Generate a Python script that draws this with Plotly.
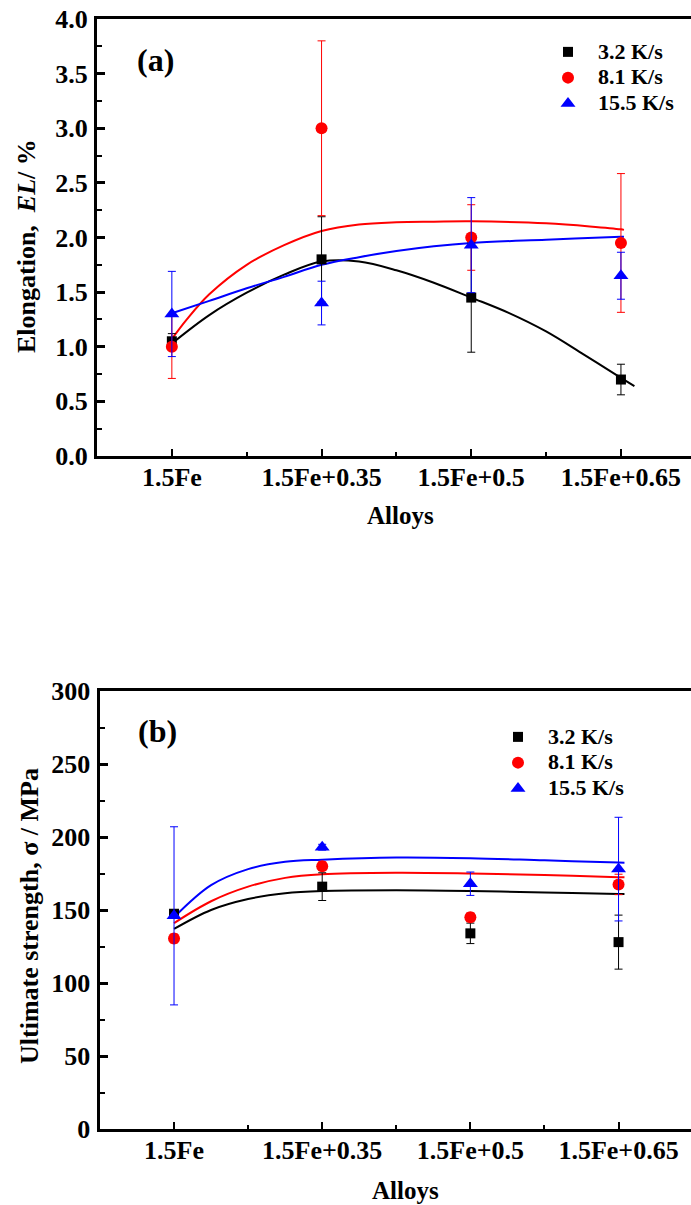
import plotly.graph_objects as go

# ---- categories and series ----
alloys = ["1.5Fe", "1.5Fe+0.35", "1.5Fe+0.5", "1.5Fe+0.65"]
alloy_pos = [0, 1, 2, 3]
rates = ["3.2 K/s", "8.1 K/s", "15.5 K/s"]
colors = ["#000000", "#ff0000", "#0000ff"]
symbols = ["square", "circle", "triangle-up"]
marker_sizes = [10, 12, 13]

# (a) elongation, %
el_32 = [1.05, 1.80, 1.45, 0.70]
el_32_err = [0.07, 0.39, 0.50, 0.14]
el_81 = [1.00, 3.00, 2.00, 1.95]
el_81_err = [0.29, 0.80, 0.30, 0.635]
el_155 = [1.30, 1.40, 1.93, 1.65]
el_155_err = [0.39, 0.20, 0.435, 0.215]

# (a) fitted trend lines (position along alloy axis, value)
el_fit_32_x = [0, 0.25, 0.5, 0.75, 1, 1.25, 1.5, 1.75, 2, 2.25, 2.5, 2.75, 3, 3.09]
el_fit_32_y = [1.03, 1.29, 1.495, 1.66, 1.78, 1.78, 1.70, 1.586, 1.45, 1.31, 1.14, 0.93, 0.715, 0.64]
el_fit_81_x = [0, 0.1, 0.25, 0.5, 0.75, 1, 1.25, 1.5, 1.75, 2, 2.5, 3, 3.02]
el_fit_81_y = [1.07, 1.25, 1.48, 1.75, 1.93, 2.06, 2.12, 2.14, 2.145, 2.148, 2.13, 2.075, 2.07]
el_fit_155_x = [0, 0.25, 0.5, 0.75, 1, 1.25, 1.5, 1.75, 2, 2.5, 3, 3.02]
el_fit_155_y = [1.306, 1.42, 1.535, 1.64, 1.75, 1.82, 1.876, 1.92, 1.95, 1.98, 2.007, 2.008]

# (b) ultimate strength, MPa
uts_32 = [147.5, 166.0, 134.0, 128.0]
uts_32_err = [2.0, 9.5, 7.0, 18.5]
uts_81 = [130.5, 180.0, 145.0, 167.5]
uts_81_err = [3.0, 3.0, 3.0, 7.0]
uts_155 = [146.0, 193.0, 168.0, 178.0]
uts_155_err = [61.0, 2.0, 8.0, 35.5]

# (b) fitted trend lines
uts_fit_x = [0, 0.25, 0.5, 0.75, 1, 1.5, 2, 2.5, 3, 3.04]
uts_fit_32_y = [137, 150, 157.5, 161.5, 163, 163.5, 163, 162, 161, 161]
uts_fit_81_y = [141, 156, 166, 172, 174.5, 175.5, 175, 174, 172.5, 172.4]
uts_fit_155_y = [145, 167, 178, 183, 184.5, 186, 185.5, 184, 182.5, 182.4]

W, H = 691, 1205
FONT = "Liberation Serif"


def legend_label(name):
    # larger label text inside a compact legend row
    return '<span style="font-size:22px">' + name + "</span>"


fig = go.Figure()

panels = [
    dict(xa="x", ya="y", legend="legend",
         vals=[el_32, el_81, el_155], errs=[el_32_err, el_81_err, el_155_err],
         fits=[(el_fit_32_x, el_fit_32_y), (el_fit_81_x, el_fit_81_y), (el_fit_155_x, el_fit_155_y)]),
    dict(xa="x2", ya="y2", legend="legend2",
         vals=[uts_32, uts_81, uts_155], errs=[uts_32_err, uts_81_err, uts_155_err],
         fits=[(uts_fit_x, uts_fit_32_y), (uts_fit_x, uts_fit_81_y), (uts_fit_x, uts_fit_155_y)]),
]

for p in panels:
    for i in range(3):
        fx, fy = p["fits"][i]
        fig.add_trace(go.Scatter(
            x=fx, y=fy, mode="lines", xaxis=p["xa"], yaxis=p["ya"],
            line=dict(color=colors[i], width=2, shape="spline", smoothing=1),
            showlegend=False, hoverinfo="skip"))
    for i in range(3):
        fig.add_trace(go.Scatter(
            x=alloy_pos, y=p["vals"][i], mode="markers", name=legend_label(rates[i]),
            xaxis=p["xa"], yaxis=p["ya"], legend=p["legend"],
            marker=dict(symbol=symbols[i], size=marker_sizes[i], color=colors[i]),
            error_y=dict(type="data", array=p["errs"][i], color=colors[i],
                         thickness=1, width=4)))

tick_font = dict(family=FONT, size=26, color="black", weight="bold")


def x_axis(anchor, rng, left_px):
    return dict(
        domain=[left_px / W, 1], range=rng, anchor=anchor,
        tickmode="array", tickvals=alloy_pos, ticktext=alloys,
        ticks="inside", ticklen=7, tickwidth=2, tickcolor="black",
        minor=dict(ticks="inside", ticklen=4, tickwidth=1.5, tickcolor="black",
                   tickmode="linear", tick0=0, dtick=0.5),
        showline=True, linewidth=3, linecolor="black", mirror=True,
        showgrid=False, zeroline=False, tickfont=tick_font,
        ticklabelstandoff=-4)


def y_axis(anchor, top_px, bottom_px, rng, dtick, minor_dtick, fmt):
    return dict(
        domain=[1 - bottom_px / H, 1 - top_px / H], range=rng, anchor=anchor,
        dtick=dtick, tick0=0, tickformat=fmt,
        ticks="inside", ticklen=8, tickwidth=2.5, tickcolor="black",
        minor=dict(ticks="inside", ticklen=5, tickwidth=2, tickcolor="black",
                   dtick=minor_dtick, tick0=0),
        showline=True, linewidth=3, linecolor="black", mirror=False,
        showgrid=False, zeroline=False, tickfont=tick_font,
        ticklabelstandoff=1)


legend_font = dict(family=FONT, size=17.5, color="black", weight="bold")

fig.update_layout(
    width=W, height=H, margin=dict(l=0, r=0, t=0, b=0, autoexpand=False),
    paper_bgcolor="white", plot_bgcolor="white",
    xaxis=x_axis("y", [-0.5, 3.468], 97),
    yaxis=y_axis("x", 19, 456, [0, 4], 0.5, 0.25, ".1f"),
    xaxis2=x_axis("y2", [-0.503, 3.489], 99.5),
    yaxis2=y_axis("x2", 691, 1129, [0, 300], 50, 25, "d"),
    legend=dict(x=538 / W, y=1 - 34 / H, xanchor="left", yanchor="top",
                font=legend_font, bgcolor="rgba(0,0,0,0)", itemwidth=50),
    legend2=dict(x=488 / W, y=1 - 719 / H, xanchor="left", yanchor="top",
                 font=legend_font, bgcolor="rgba(0,0,0,0)", itemwidth=50),
    showlegend=True,
)

title_font = dict(family=FONT, size=25, color="black", weight="bold")
label_font = dict(family=FONT, size=32, color="black", weight="bold")
ann = [
    dict(text="(a)", x=155 / W, y=1 - 60 / H, font=label_font),
    dict(text="(b)", x=157 / W, y=1 - 731 / H, font=label_font),
    dict(text="Alloys", x=400 / W, y=1 - 515 / H, font=title_font),
    dict(text="Alloys", x=405 / W, y=1 - 1190 / H, font=title_font),
    dict(text="Elongation,  <i>EL</i>/ %", x=27 / W, y=1 - 246 / H, textangle=-90,
         font=dict(family=FONT, size=26, color="black", weight="bold")),
    dict(text="Ultimate strength, σ / MPa", x=29 / W, y=1 - 916 / H, textangle=-90,
         font=dict(family=FONT, size=26, color="black", weight="bold")),
]
for a in ann:
    fig.add_annotation(xref="paper", yref="paper", xanchor="center", yanchor="middle",
                       showarrow=False, **a)

fig.write_html("out.html")
